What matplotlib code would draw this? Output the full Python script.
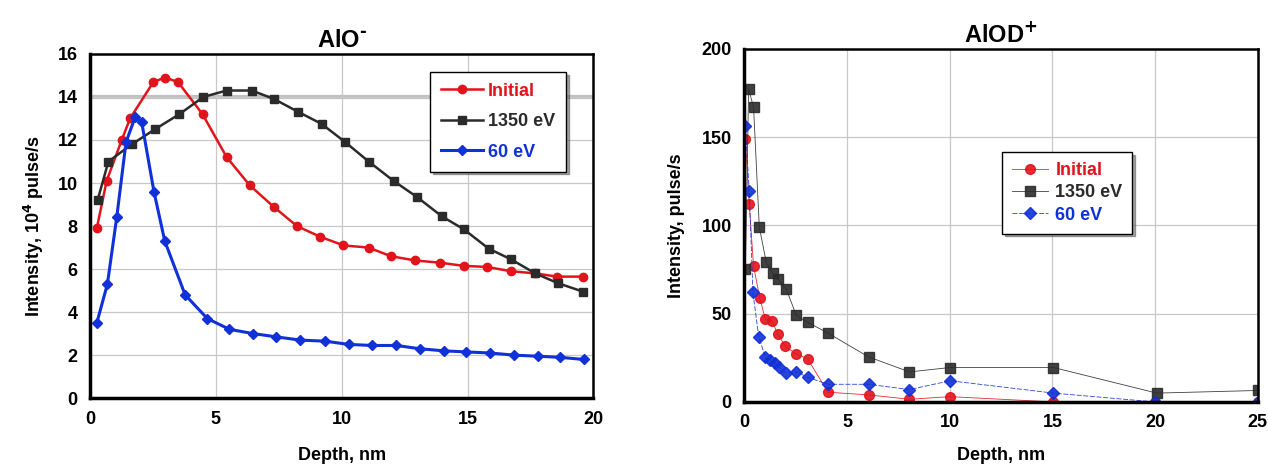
import matplotlib
matplotlib.use("Agg")
import matplotlib.pyplot as plt

plt.rcParams['font.family'] = ['Liberation Sans', 'DejaVu Sans']
plt.rcParams['font.weight'] = 'bold'

# AlO- panel (left)
alo_init_x = [0.27, 0.66, 1.26, 1.59, 2.52, 2.98, 3.49, 4.47, 5.43, 6.34, 7.29, 8.22, 9.15,
              10.07, 11.07, 11.95, 12.92, 13.89, 14.85, 15.77, 16.73, 17.69, 18.56, 19.59]
alo_init_y = [7.9, 10.1, 12.0, 13.0, 14.7, 14.9, 14.7, 13.2, 11.2, 9.9, 8.9, 8.0, 7.5,
              7.1, 7.0, 6.6, 6.4, 6.3, 6.15, 6.1, 5.9, 5.8, 5.65, 5.65]
alo_1350_x = [0.3, 0.73, 1.66, 2.58, 3.55, 4.5, 5.43, 6.43, 7.32, 8.28, 9.2, 10.14, 11.07,
              12.06, 12.99, 13.98, 14.85, 15.84, 16.73, 17.69, 18.58, 19.59]
alo_1350_y = [9.2, 11.0, 11.8, 12.5, 13.2, 14.0, 14.3, 14.3, 13.9, 13.3, 12.75, 11.9, 11.0,
              10.1, 9.35, 8.45, 7.85, 6.95, 6.45, 5.8, 5.35, 4.95]
alo_60_x = [0.27, 0.69, 1.06, 1.43, 1.79, 2.05, 2.54, 2.97, 3.78, 4.66, 5.54, 6.49, 7.4, 8.35,
            9.34, 10.27, 11.2, 12.17, 13.09, 14.05, 14.95, 15.9, 16.86, 17.79, 18.66, 19.61]
alo_60_y = [3.5, 5.3, 8.4, 11.9, 13.05, 12.85, 9.6, 7.3, 4.8, 3.7, 3.2, 3.0, 2.85, 2.7,
            2.65, 2.5, 2.45, 2.45, 2.3, 2.2, 2.15, 2.1, 2.0, 1.95, 1.9, 1.8]

# AlOD+ panel (right)
alod_init_x = [0.05, 0.24, 0.45, 0.75, 1.02, 1.35, 1.62, 2.0, 2.53, 3.08, 4.07, 6.05, 8.04, 10.02, 15.04, 20, 25]
alod_init_y = [149, 112, 77, 59, 47, 46, 38.5, 31.5, 27, 24.5, 5.5, 4, 1.5, 3, 0, 0, 0]
alod_1350_x = [0.05, 0.21, 0.45, 0.73, 1.07, 1.38, 1.64, 2.04, 2.53, 3.1, 4.07, 6.05, 8.04, 10.02, 15.05, 20.08, 25.03]
alod_1350_y = [75, 177, 167, 99, 79, 73, 69.5, 64, 49, 45, 39, 25.5, 17, 19.5, 19.5, 5, 6.5]
alod_60_x = [0.05, 0.24, 0.42, 0.7, 1.02, 1.27, 1.48, 1.67, 2.03, 2.53, 3.08, 4.07, 6.05, 8.04, 10.02, 15.05, 20, 25]
alod_60_y = [156, 119.5, 62, 37, 25.5, 23.5, 22, 20, 16.5, 17, 14, 10, 10, 7, 12, 5, 0, 0]

labels = ['Initial', '1350 eV', '60 eV']
colors = ['#e3131b', '#2b2b2b', '#1030d8']

fig = plt.figure(figsize=(12.68, 4.69), dpi=100)
ax1 = fig.add_axes([0.071, 0.151, 0.397, 0.734])
ax2 = fig.add_axes([0.587, 0.143, 0.405, 0.753])

# left panel
ax1.plot(alo_init_x, alo_init_y, color=colors[0], marker='o', ms=6, lw=1.8, label=labels[0])
ax1.plot(alo_1350_x, alo_1350_y, color=colors[1], marker='s', ms=6, lw=1.8, label=labels[1])
ax1.plot(alo_60_x, alo_60_y, color=colors[2], marker='D', ms=5.5, lw=2.2, label=labels[2])
ax1.set_xlim(0, 20)
ax1.set_ylim(0, 16)
ax1.set_xticks(range(0, 21, 5))
ax1.set_yticks(range(0, 17, 2))
ax1.set_title('AlO$^{\\mathbf{\u2010}}$', fontsize=17, fontweight='bold', pad=5)
ax1.set_xlabel('Depth, nm', fontsize=13, fontweight='bold', labelpad=14)
ax1.set_ylabel('Intensity, 10$^{\\mathbf{4}}$ pulse/s', fontsize=13, fontweight='bold', labelpad=8)

# right panel
ax2.plot(alod_init_x, alod_init_y, color=colors[0], marker='o', ms=7, lw=0.6, alpha=0.9, label=labels[0])
ax2.plot(alod_1350_x, alod_1350_y, color=colors[1], marker='s', ms=7, lw=0.6, alpha=0.9, label=labels[1])
ax2.plot(alod_60_x, alod_60_y, color=colors[2], marker='D', ms=6, lw=0.6, ls=(0, (6, 2)), alpha=0.9, label=labels[2])
ax2.set_xlim(0, 25)
ax2.set_ylim(0, 200)
ax2.set_xticks(range(0, 26, 5))
ax2.set_yticks(range(0, 201, 50))
ax2.set_title('AlOD$^{\\mathbf{+}}$', fontsize=17, fontweight='bold', pad=5)
ax2.set_xlabel('Depth, nm', fontsize=13, fontweight='bold', labelpad=11)
ax2.set_ylabel('Intensity, pulse/s', fontsize=13, fontweight='bold', labelpad=12)

for ax in (ax1, ax2):
    ax.grid(True, color='#c8c8c8', lw=0.9)
    ax.set_axisbelow(True)
    ax.tick_params(length=0, labelsize=13, pad=9)
    for t in ax.get_xticklabels() + ax.get_yticklabels():
        t.set_fontweight('bold')
    for side in ('left', 'bottom'):
        ax.spines[side].set_linewidth(2.5)
    for side in ('top', 'right'):
        ax.spines[side].set_linewidth(1.8)

# slightly heavier band at 14 in the left panel
ax1.axhline(14, color='#c0c0c0', lw=3, zorder=0.5)

leg1 = ax1.legend(loc='upper left', bbox_to_anchor=(0.676, 0.948), borderaxespad=0,
                  fancybox=False, shadow=True, framealpha=1, edgecolor='black', fontsize=13,
                  handlelength=2.3, handletextpad=0.3, borderpad=0.6, labelspacing=0.75)
leg1.get_frame().set_linewidth(1.0)
for txt, c in zip(leg1.get_texts(), colors):
    txt.set_color(c)
    txt.set_fontweight('bold')

leg2 = ax2.legend(loc='upper left', bbox_to_anchor=(0.502, 0.708), borderaxespad=0,
                  fancybox=False, shadow=True, framealpha=1, edgecolor='black', fontsize=13,
                  handlelength=2.0, handletextpad=0.4, borderpad=0.55, labelspacing=0.3)
leg2.get_frame().set_linewidth(1.0)
for txt, c in zip(leg2.get_texts(), colors):
    txt.set_color(c)
    txt.set_fontweight('bold')

fig.savefig('out.png', dpi=100)
